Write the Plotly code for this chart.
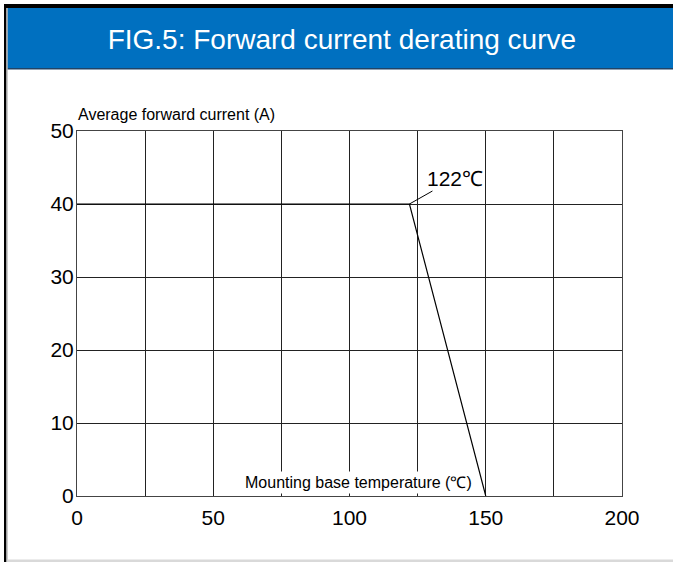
import plotly.graph_objects as go

# Data
temps = [0, 122, 150]
current = [40, 40, 0]
x_ticks = [0, 50, 100, 150, 200]
y_ticks = [0, 10, 20, 30, 40, 50]
knee_label = "122℃"
title_text = "FIG.5: Forward current derating curve"
x_title = "Mounting base temperature (℃)"
y_title = "Average forward current (A)"

W, H = 673, 562
L, R, T, B = 77, 51, 131, 66
pw, ph = W - L - R, H - T - B

def px2paper_x(px):
    return (px - L) / pw

def px2paper_y(py):
    return (H - B - py) / ph

fig = go.Figure()
fig.add_trace(go.Scatter(x=temps, y=current, mode="lines",
                         line=dict(color="black", width=1.2),
                         hoverinfo="skip", showlegend=False))

font = "Liberation Sans, Arial, sans-serif"

def rect(x0, x1, y0, y1, color, layer="above"):
    return dict(type="rect", xref="paper", yref="paper",
                x0=px2paper_x(x0), x1=px2paper_x(x1), y0=px2paper_y(y1), y1=px2paper_y(y0),
                fillcolor=color, line=dict(width=0), layer=layer)

fig.update_layout(
    width=W, height=H,
    margin=dict(l=L, r=R, t=T, b=B),
    paper_bgcolor="white", plot_bgcolor="white",
    title=dict(text=title_text, x=0.508, xanchor="center", y=1 - 39 / H, yanchor="middle",
               font=dict(family=font, size=28, color="white")),
    xaxis=dict(range=[0, 200], tickvals=x_ticks, showgrid=True, gridcolor="#222", gridwidth=1,
               minor=dict(dtick=25, showgrid=True, gridcolor="#222", gridwidth=1),
               showline=True, linecolor="#444", linewidth=1, mirror=True, zeroline=False,
               ticks="", ticklabelstandoff=3,
               tickfont=dict(family=font, size=21, color="black"), fixedrange=True),
    yaxis=dict(range=[0, 50], tickvals=y_ticks, showgrid=True, gridcolor="#222", gridwidth=1,
               showline=True, linecolor="#444", linewidth=1, mirror=True, zeroline=False,
               ticks="", ticklabelstandoff=-2,
               tickfont=dict(family=font, size=21, color="black"), fixedrange=True),
    shapes=[
        rect(7.5, W + 5, 8, 68, "#0070C0", layer="below"),   # blue header bar
        rect(7.5, W + 5, 68, 69.5, "#1F4468"),                # header bottom edge
        rect(4, W + 5, 4, 8, "black"),                         # top black band
        rect(4, 6.3, 4, H + 5, "black"),                       # left black border
        rect(6.3, 7.5, 8, H + 5, "#999999"),                   # left gray line
        rect(7.5, W + 5, 559.5, H + 5, "#d9d9d9"),             # bottom light band
    ],
    annotations=[
        dict(text=y_title, xref="paper", yref="paper", x=px2paper_x(76), y=px2paper_y(114),
             xanchor="left", yanchor="middle", showarrow=False,
             font=dict(family=font, size=16, color="black")),
        dict(text=x_title, xref="x", yref="y", x=103.3, y=1.8,
             xanchor="center", yanchor="middle", showarrow=False, bgcolor="white", borderpad=2,
             font=dict(family=font, size=16, color="black")),
        dict(text=knee_label, xref="x", yref="y", x=temps[1], y=current[1],
             ax=46, ay=-26, showarrow=True, arrowhead=0, arrowwidth=1, arrowcolor="black",
             font=dict(family=font, size=21, color="black")),
    ],
)

fig.write_html("out.html", config={"displayModeBar": False},
               post_script="document.body.style.margin='0';document.body.style.overflow='hidden';")
